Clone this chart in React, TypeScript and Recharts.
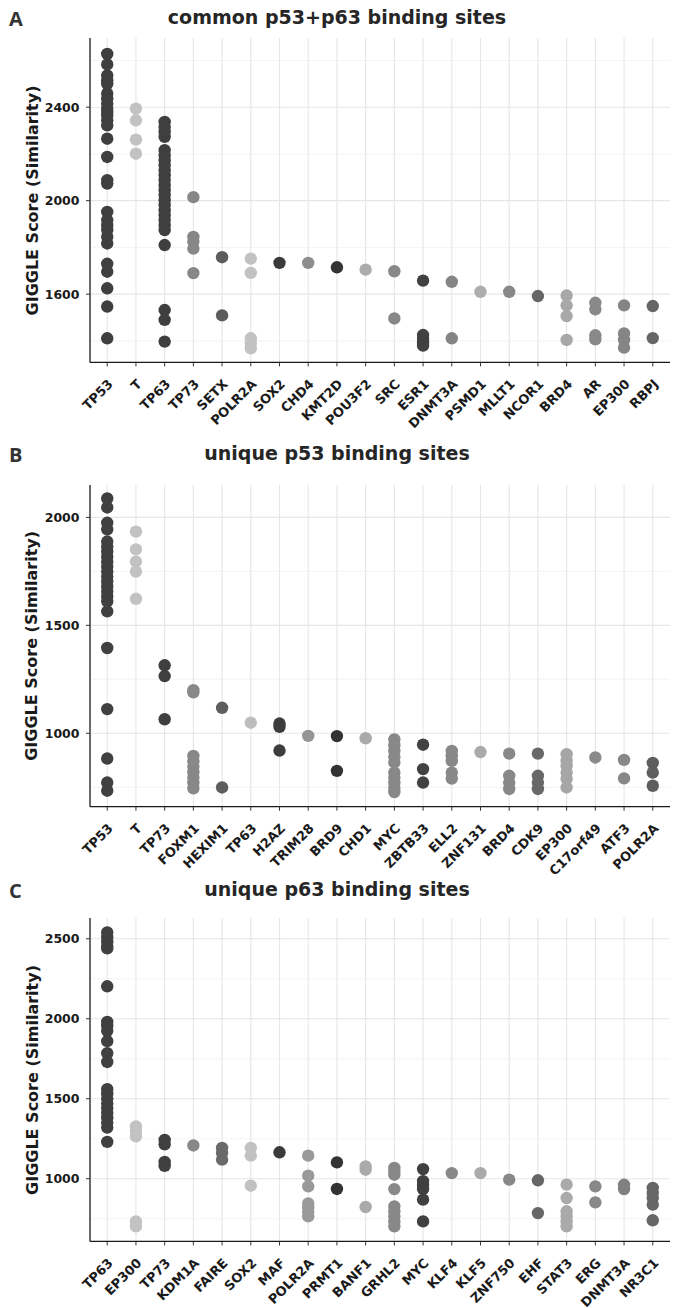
import React from "react";
import { CartesianGrid, Scatter, ScatterChart, XAxis, YAxis } from "recharts";

// ---- panel A: common p53+p63 binding sites ----
const CATS_A = ["TP53", "T", "TP63", "TP73", "SETX", "POLR2A", "SOX2", "CHD4", "KMT2D", "POU3F2", "SRC", "ESR1", "DNMT3A", "PSMD1", "MLLT1", "NCOR1", "BRD4", "AR", "EP300", "RBPJ"];
const VALS_A = [
  [2628, 2583, 2536, 2515, 2500, 2458, 2436, 2415, 2394, 2379, 2365, 2344, 2322, 2265, 2187, 2088, 2073, 1952, 1917, 1895, 1874, 1846, 1817, 1730, 1696, 1625, 1547, 1411],
  [2394, 2344, 2261, 2201],
  [2337, 2315, 2294, 2273, 2216, 2194, 2173, 2152, 2130, 2109, 2088, 2066, 2045, 2024, 2002, 1981, 1959, 1938, 1917, 1895, 1874, 1810, 1532, 1490, 1397],
  [2015, 1845, 1825, 1795, 1690],
  [1758, 1509],
  [1752, 1691, 1411, 1390, 1368],
  [1734],
  [1734],
  [1715],
  [1705],
  [1698, 1496],
  [1658, 1425, 1408, 1392, 1380],
  [1653, 1411],
  [1610],
  [1610],
  [1592],
  [1594, 1552, 1506, 1404],
  [1563, 1535, 1424, 1407],
  [1552, 1432, 1404, 1371],
  [1549, 1412],
];
const COLORS_A = ["#3f3f3f", "#c2c2c2", "#3f3f3f", "#878787", "#5c5c5c", "#c2c2c2", "#3a3a3a", "#8e8e8e", "#333333", "#ababab", "#888888", "#414141", "#858585", "#adadad", "#888888", "#666666", "#a8a8a8", "#898989", "#858585", "#666666"];
const TICKS_A = [1600, 2000, 2400];
const MINOR_A = [1400, 1800, 2200, 2600];

// ---- panel B: unique p53 binding sites ----
const CATS_B = ["TP53", "T", "TP73", "FOXM1", "HEXIM1", "TP63", "H2AZ", "TRIM28", "BRD9", "CHD1", "MYC", "ZBTB33", "ELL2", "ZNF131", "BRD4", "CDK9", "EP300", "C17orf49", "ATF3", "POLR2A"];
const VALS_B = [
  [2088, 2046, 1975, 1945, 1888, 1865, 1842, 1818, 1795, 1772, 1749, 1726, 1703, 1680, 1657, 1634, 1611, 1565, 1395, 1112, 883, 772, 734],
  [1934, 1852, 1795, 1749, 1623],
  [1315, 1265, 1065],
  [1200, 1190, 895, 870, 845, 820, 795, 770, 745],
  [1118, 749],
  [1049],
  [1045, 1030, 920],
  [988],
  [987, 826],
  [977],
  [972, 945, 918, 890, 865, 818, 795, 770, 748, 728],
  [947, 834, 772],
  [918, 895, 872, 818, 790],
  [913],
  [906, 803, 772, 742],
  [906, 803, 772, 742],
  [903, 872, 849, 818, 788, 749],
  [888],
  [877, 791],
  [863, 818, 757],
];
const COLORS_B = ["#404040", "#c2c2c2", "#3f3f3f", "#888888", "#5e5e5e", "#bdbdbd", "#3d3d3d", "#959595", "#333333", "#aaaaaa", "#888888", "#424242", "#888888", "#aaaaaa", "#888888", "#686868", "#a6a6a6", "#8a8a8a", "#888888", "#5e5e5e"];
const TICKS_B = [1000, 1500, 2000];
const MINOR_B = [750, 1250, 1750];

// ---- panel C: unique p63 binding sites ----
const CATS_C = ["TP63", "EP300", "TP73", "KDM1A", "FAIRE", "SOX2", "MAF", "POLR2A", "PRMT1", "BANF1", "GRHL2", "MYC", "KLF4", "KLF5", "ZNF750", "EHF", "STAT3", "ERG", "DNMT3A", "NR3C1"];
const VALS_C = [
  [2540, 2510, 2480, 2450, 2440, 2203, 1980, 1955, 1925, 1860, 1785, 1730, 1560, 1530, 1500, 1470, 1440, 1410, 1380, 1350, 1320, 1230],
  [1327, 1296, 1265, 733, 702],
  [1242, 1215, 1105, 1080],
  [1208],
  [1192, 1160, 1119],
  [1192, 1144, 956],
  [1165],
  [1144, 1019, 952, 845, 818, 790, 765],
  [1102, 936],
  [1077, 1056, 823],
  [1067, 1046, 1025, 935, 827, 796, 765, 733, 702],
  [1060, 985, 960, 935, 869, 733],
  [1035],
  [1035],
  [994],
  [990, 785],
  [963, 879, 796, 765, 733, 702],
  [952, 852],
  [962, 935],
  [942, 910, 879, 838, 740],
];
const COLORS_C = ["#404040", "#c2c2c2", "#404040", "#888888", "#6a6a6a", "#c2c2c2", "#3a3a3a", "#999999", "#333333", "#aaaaaa", "#888888", "#404040", "#888888", "#aaaaaa", "#888888", "#666666", "#aaaaaa", "#888888", "#808080", "#666666"];
const TICKS_C = [1000, 1500, 2000, 2500];
const MINOR_C = [750, 1250, 1750, 2250];

const FONT = "'DejaVu Sans', sans-serif";

type PanelProps = {
  cats: string[];
  vals: number[][];
  colors: string[];
  ticks: number[];
  minor: number[];
  domain: [number, number];
  plotTop: number;
  plotH: number;
};

function Panel({ cats, vals, colors, ticks, minor, domain, plotTop, plotH }: PanelProps) {
  const points = vals.flatMap((vs, i) => vs.map((v) => ({ x: i, y: v })));
  const idx = cats.map((_, i) => i);
  const pad = 10;
  const axisH = 84;
  return (
    <div style={{ position: "absolute", left: 0, top: plotTop - pad }}>
      <ScatterChart width={678} height={pad + plotH + axisH} margin={{ top: pad, right: 8, bottom: 0, left: 0 }}>
        <CartesianGrid horizontalValues={minor} verticalValues={[]} vertical={false} stroke="#efefef" strokeWidth={0.7} />
        <CartesianGrid horizontalValues={ticks} verticalValues={idx} stroke="#e6e6e6" strokeWidth={1.1} />
        <XAxis
          type="number"
          dataKey="x"
          domain={[-0.6, cats.length - 0.4]}
          ticks={idx}
          interval={0}
          allowDataOverflow
          tickFormatter={(i: number) => cats[i]}
          height={axisH}
          angle={-45}
          textAnchor="end"
          tickSize={4}
          tickMargin={12}
          tick={{ fontFamily: FONT, fontWeight: 700, fontSize: 13, fill: "#1a1a1a" }}
          axisLine={{ stroke: "#1a1a1a", strokeWidth: 1.3 }}
          tickLine={{ stroke: "#333" }}
        />
        <YAxis
          type="number"
          dataKey="y"
          domain={domain}
          ticks={ticks}
          allowDataOverflow
          width={90}
          tickSize={4}
          tickMargin={6.5}
          tick={{ fontFamily: FONT, fontWeight: 700, fontSize: 12.5, fill: "#1a1a1a" }}
          axisLine={{ stroke: "#1a1a1a", strokeWidth: 1.3 }}
          tickLine={{ stroke: "#333" }}
        />
        <Scatter
          data={points}
          isAnimationActive={false}
          shape={(p: any) => <circle cx={p.cx} cy={p.cy} r={6.2} fill={colors[p.payload.x]} />}
        />
      </ScatterChart>
    </div>
  );
}

const LABELS = [
  { letter: "A", title: "common p53+p63 binding sites", base: 23.5, top: 38.3, h: 324.4 },
  { letter: "B", title: "unique p53 binding sites", base: 459.5, top: 485, h: 321.7 },
  { letter: "C", title: "unique p63 binding sites", base: 896, top: 918.3, h: 323.4 },
];

export default function App() {
  return (
    <div style={{ position: "absolute", left: 0, top: 0, width: 678, height: 1308, background: "#fff" }}>
      <Panel cats={CATS_A} vals={VALS_A} colors={COLORS_A} ticks={TICKS_A} minor={MINOR_A} domain={[1308, 2696]} plotTop={38.3} plotH={324.4} />
      <Panel cats={CATS_B} vals={VALS_B} colors={COLORS_B} ticks={TICKS_B} minor={MINOR_B} domain={[660, 2150]} plotTop={485} plotH={321.7} />
      <Panel cats={CATS_C} vals={VALS_C} colors={COLORS_C} ticks={TICKS_C} minor={MINOR_C} domain={[608, 2630]} plotTop={918.3} plotH={323.4} />
      <svg width={678} height={1308} style={{ position: "absolute", left: 0, top: 0, pointerEvents: "none" }}>
        {LABELS.map((l) => (
          <g key={l.letter}>
            <text x={9} y={l.base + 2} fontFamily="'Open Sans', sans-serif" fontWeight={700} fontSize={20} fill="#333">
              {l.letter}
            </text>
            <text x={337} y={l.base} textAnchor="middle" fontFamily={FONT} fontWeight={700} fontSize={19} fill="#262626">
              {l.title}
            </text>
            <text
              x={37.5}
              y={l.top + l.h / 2}
              transform={`rotate(-90, 37.5, ${l.top + l.h / 2})`}
              textAnchor="middle"
              fontFamily={FONT}
              fontWeight={700}
              fontSize={16}
              fill="#1a1a1a"
            >
              GIGGLE Score (Similarity)
            </text>
          </g>
        ))}
      </svg>
    </div>
  );
}
